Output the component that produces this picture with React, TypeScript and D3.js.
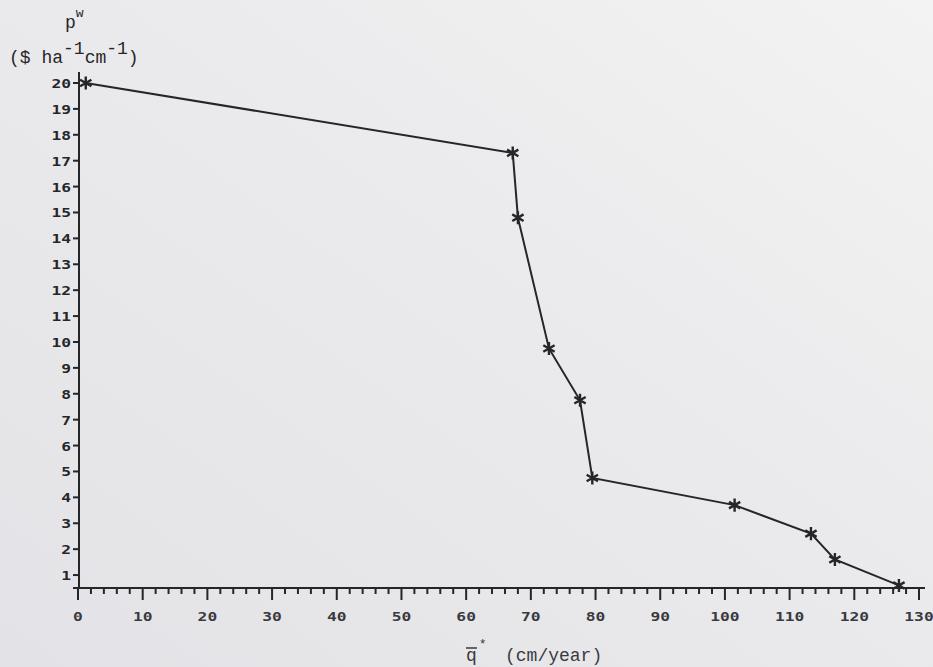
import React from 'react';
import * as d3 from 'd3';

// values
const qValues = [1.2, 67.2, 68.0, 72.8, 77.6, 79.5, 101.5, 113.3, 117.0, 126.9];
const pValues = [20.0, 17.3, 14.8, 9.75, 7.75, 4.75, 3.7, 2.6, 1.6, 0.6];
const xTicks = d3.range(0, 131, 10);
const xMinorTicks = d3.range(0, 131, 2);
const yTicks = d3.range(1, 21, 1);

const W = 933, H = 667;
const ink = "#262628";

const x = d3.scaleLinear().domain([0, 130]).range([78, 919]);
const y = d3.scaleLinear().domain([0.5, 20]).range([588, 83]);

const points = qValues.map((q, i) => ({ q, p: pValues[i] }));

const line = d3.line<{ q: number; p: number }>()
    .x((d) => x(d.q))
    .y((d) => y(d.p))(points);

const star = d3.symbol().type(d3.symbolAsterisk).size(120)();

const tickFont = "'DejaVu Sans Mono', monospace";
const typeFont = "'Courier New', 'Liberation Mono', monospace";

const App = () => {
    const axisY = y(0.5);
    const axisX = x(0) + 1;
    return (
        <svg width={W} height={H} style={{ position: 'absolute', left: 0, top: 0 }}>
            <defs>
                <linearGradient id="paper" x1="0" y1="1" x2="1" y2="0">
                    <stop offset="0" stopColor="#e3e3e7" />
                    <stop offset="0.6" stopColor="#ebebed" />
                    <stop offset="1" stopColor="#f3f3f3" />
                </linearGradient>
            </defs>
            <rect width={W} height={H} fill="url(#paper)" />

            {/* y axis label */}
            <text x={65} y={28} fontFamily={typeFont} fontSize={18} fill={ink}>
                p<tspan dy={-11} fontSize={13}>w</tspan>
            </text>
            <text x={9} y={63} fontFamily={typeFont} fontSize={18} fill={ink}>
                ($ ha<tspan dy={-9}>-1</tspan><tspan dy={9}>cm</tspan><tspan dy={-9}>-1</tspan><tspan dy={9}>)</tspan>
            </text>

            {/* axes */}
            <line x1={axisX} x2={axisX} y1={72} y2={axisY} stroke={ink} strokeWidth={2} />
            <line x1={73} x2={925} y1={axisY} y2={axisY} stroke={ink} strokeWidth={2} />

            {yTicks.map((t) => (
                <g key={"y" + t}>
                    <line x1={axisX - 6} x2={axisX} y1={y(t)} y2={y(t)} stroke={ink} strokeWidth={2} />
                    <text transform={`translate(${axisX - 8},${y(t) + 5}) scale(1.25,1)`}
                        textAnchor="end" fontFamily={tickFont} fontWeight="bold" fontSize={13} fill={ink}>
                        {t}
                    </text>
                </g>
            ))}

            {xMinorTicks.map((t) => (
                <line key={"m" + t} x1={x(t)} x2={x(t)} y1={axisY} y2={axisY + (t % 10 === 0 ? 12 : 6)}
                    stroke={ink} strokeWidth={2} />
            ))}
            {xTicks.map((t) => (
                <text key={"x" + t} transform={`translate(${x(t)},${621}) scale(1.25,1)`}
                    textAnchor="middle" fontFamily={tickFont} fontWeight="bold" fontSize={13} fill="#3a3a3e">
                    {t}
                </text>
            ))}

            {/* x axis label */}
            <text x={466} y={661} fontFamily={typeFont} fontSize={18} fill="#3a3a3e">
                q<tspan dy={-13} dx={2} fontSize={13}>*</tspan><tspan dy={13} x={505}>(cm/year)</tspan>
            </text>
            <line x1={466} x2={477} y1={648} y2={648} stroke="#3a3a3e" strokeWidth={1.5} />

            {/* data */}
            <path d={line ?? ""} fill="none" stroke={ink} strokeWidth={2} />
            {points.map((d, i) => (
                <path key={i} d={star ?? ""} transform={`translate(${x(d.q)},${y(d.p)})`}
                    fill="none" stroke={ink} strokeWidth={2.4} />
            ))}
        </svg>
    );
};

export default App;
